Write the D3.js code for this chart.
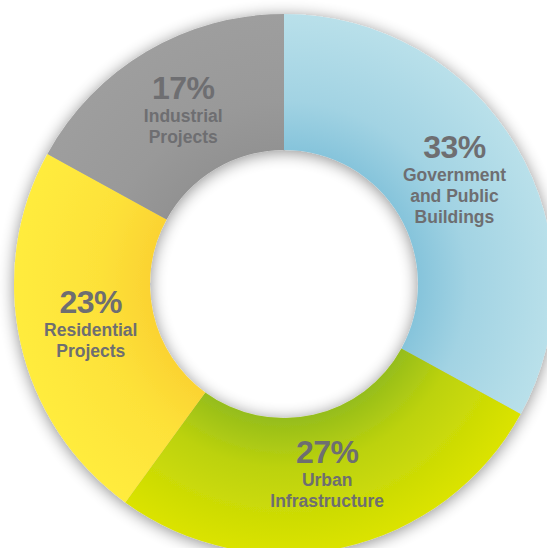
<!DOCTYPE html>
<html>
<head>
<meta charset="utf-8">
<script src="https://cdn.jsdelivr.net/npm/d3@7"></script>
<style>
  body { margin: 0; background: #fff; overflow: hidden; }
  text { font-family: "Liberation Sans", Arial, Helvetica, sans-serif; font-weight: bold; }
</style>
</head>
<body>
<div id="chart"></div>
<script>
// slice data, clockwise from 12 o'clock
var categories = ["Government and Public Buildings", "Urban Infrastructure", "Residential Projects", "Industrial Projects"];
var values = [33, 27, 23, 17];
var labelLines = [["Government", "and Public", "Buildings"], ["Urban", "Infrastructure"], ["Residential", "Projects"], ["Industrial", "Projects"]];
var innerColors = ["#86c4db", "#95bd1c", "#fbd332", "#929292"];
var outerColors = ["#b9e0ea", "#dbe300", "#ffec3e", "#9e9e9e"];

var width = 547, height = 548;
var cx = 284, cy = 284;
var rInner = 134, rOuter = 270;

var svg = d3.select("#chart").append("svg")
    .attr("width", width)
    .attr("height", height);

var defs = svg.append("defs");

// soft shadow round the ring
var shadow = defs.append("filter")
    .attr("id", "shadow")
    .attr("x", "-20%").attr("y", "-20%")
    .attr("width", "140%").attr("height", "140%");
shadow.append("feGaussianBlur").attr("in", "SourceAlpha").attr("stdDeviation", 8).attr("result", "blur");
shadow.append("feOffset").attr("dx", 0).attr("dy", 2).attr("result", "off");
shadow.append("feComponentTransfer").attr("in", "off").attr("result", "soft")
  .append("feFuncA").attr("type", "linear").attr("slope", 0.45);
var merge = shadow.append("feMerge");
merge.append("feMergeNode").attr("in", "soft");
merge.append("feMergeNode").attr("in", "SourceGraphic");

values.forEach(function(v, i) {
  var grad = defs.append("radialGradient")
      .attr("id", "grad" + i)
      .attr("gradientUnits", "userSpaceOnUse")
      .attr("cx", 0).attr("cy", 0).attr("r", rOuter);
  grad.append("stop").attr("offset", rInner / rOuter).attr("stop-color", innerColors[i]);
  grad.append("stop").attr("offset", 0.68).attr("stop-color", d3.interpolateRgb(innerColors[i], outerColors[i])(0.55));
  grad.append("stop").attr("offset", 1).attr("stop-color", outerColors[i]);
});

var g = svg.append("g")
    .attr("transform", "translate(" + cx + "," + cy + ")");

var pie = d3.pie().sort(null).value(function(d) { return d; });
var arcs = pie(values);

var arc = d3.arc().innerRadius(rInner).outerRadius(rOuter);
var labelArc = d3.arc().innerRadius(198).outerRadius(198);

var ring = g.append("g").attr("filter", "url(#shadow)");

ring.selectAll("path")
  .data(arcs)
  .enter().append("path")
    .attr("d", arc)
    .attr("fill", function(d, i) { return "url(#grad" + i + ")"; });

// labels
var labels = g.selectAll("g.label")
  .data(arcs)
  .enter().append("g")
    .attr("class", "label")
    .attr("transform", function(d) {
      var c = labelArc.centroid(d);
      return "translate(" + c[0] + "," + (c[1] - 4) + ")";
    });

labels.each(function(d, i) {
  var lines = labelLines[i];
  var blockTop = -(25 + lines.length * 21) / 2;
  var sel = d3.select(this);
  sel.append("text")
    .attr("text-anchor", "middle")
    .attr("y", blockTop + 23)
    .attr("font-size", 32)
    .attr("letter-spacing", -0.5)
    .attr("fill", "#6e6e71")
    .text(values[i] + "%");
  lines.forEach(function(line, j) {
    sel.append("text")
      .attr("text-anchor", "middle")
      .attr("y", blockTop + 46 + j * 21)
      .attr("font-size", 17.5)
      .attr("fill", "#6e6e71")
      .text(line);
  });
});
</script>
</body>
</html>
